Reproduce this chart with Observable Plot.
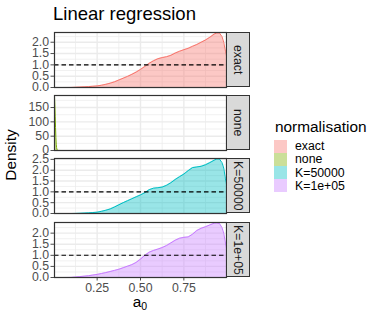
<!DOCTYPE html>
<html><head><meta charset="utf-8">
<script src="https://cdn.jsdelivr.net/npm/d3@7"></script>
<script src="https://cdn.jsdelivr.net/npm/@observablehq/plot@0.6"></script>
<style>
body{margin:0;background:#fff;}
#chart{position:relative;width:382px;height:322px;overflow:hidden;font-family:"Liberation Sans",Arial,sans-serif;background:#fff;}
#chart svg{position:absolute;left:0;overflow:visible;}
.strip{position:absolute;box-sizing:border-box;border:1.2px solid #333;background:#D9D9D9;display:flex;align-items:center;justify-content:center;}
.strip span{writing-mode:vertical-rl;font-size:12.3px;color:#1A1A1A;white-space:nowrap;}
.txt{position:absolute;white-space:nowrap;color:#000;line-height:1;}
.key{position:absolute;width:13px;height:13px;}
</style></head><body><div id="chart"></div>
<script>
// ---- data ----
const groups = ["exact", "none", "K=50000", "K=1e+05"];
const colors = ["#F8766D", "#7CAE00", "#00BFC4", "#C77CFF"];

const a0 = [0.004, 0.05, 0.1, 0.125, 0.15, 0.175, 0.2, 0.225, 0.25, 0.275, 0.3, 0.325, 0.35, 0.375, 0.4, 0.425, 0.45, 0.475, 0.5, 0.525, 0.55, 0.575, 0.6, 0.625, 0.65, 0.675, 0.7, 0.725, 0.75, 0.775, 0.8, 0.825, 0.85, 0.875, 0.9, 0.925, 0.94, 0.955, 0.97, 0.98, 0.99, 0.996];
const densityExact = [0, 0, 0.003, 0.01, 0.02, 0.03, 0.04, 0.055, 0.07, 0.1, 0.14, 0.19, 0.25, 0.33, 0.41, 0.49, 0.58, 0.68, 0.8, 0.93, 1.07, 1.18, 1.27, 1.32, 1.36, 1.42, 1.52, 1.6, 1.67, 1.73, 1.82, 1.9, 2.0, 2.1, 2.22, 2.36, 2.41, 2.41, 2.25, 2.0, 1.6, 1.4];
const densityK50000 = [0, 0, 0, 0.005, 0.01, 0.02, 0.03, 0.045, 0.06, 0.1, 0.15, 0.21, 0.3, 0.4, 0.5, 0.59, 0.68, 0.77, 0.86, 0.96, 1.1, 1.17, 1.19, 1.22, 1.3, 1.42, 1.57, 1.7, 1.82, 1.98, 2.12, 2.15, 2.18, 2.25, 2.35, 2.46, 2.52, 2.52, 2.35, 2.1, 1.6, 1.35];
const densityK1e5 = [0, 0, 0.005, 0.02, 0.04, 0.06, 0.08, 0.11, 0.14, 0.18, 0.22, 0.27, 0.32, 0.37, 0.44, 0.51, 0.58, 0.68, 0.83, 1.0, 1.14, 1.22, 1.28, 1.35, 1.44, 1.56, 1.68, 1.77, 1.81, 1.83, 1.95, 2.12, 2.22, 2.29, 2.37, 2.45, 2.46, 2.44, 2.25, 2.0, 1.55, 1.3];
const a0None = [0.004, 0.006, 0.008, 0.01, 0.012, 0.014, 0.016, 0.018, 0.02, 0.025, 0.04, 0.1, 0.3, 0.5, 0.8, 0.996];
const densityNone = [190, 160, 120, 80, 45, 22, 10, 4, 1.5, 0.3, 0, 0, 0, 0, 0, 0];

const xDomain = [0.004, 0.996];
const xTicks = [0.25, 0.5, 0.75];
const xMinor = [0.125, 0.375, 0.625, 0.875];
const yMax = [2.43, 192, 2.54, 2.48];
const yTicks = [[0, 0.5, 1, 1.5, 2], [0, 50, 100, 150], [0, 0.5, 1, 1.5, 2, 2.5], [0, 0.5, 1, 1.5, 2]];
const uniformDensity = [1];

// ---- layout ----
const panelTops = [32, 95, 158, 222];
const panelH = 55;
const chart = document.getElementById("chart");

const series = [
  {x: a0, y: densityExact},
  {x: a0None, y: densityNone},
  {x: a0, y: densityK50000},
  {x: a0, y: densityK1e5}
];

function minorOf(ticks, max) {
  const step = ticks[1] - ticks[0];
  const m = [];
  for (let i = 0; i < ticks.length; i++) {
    const v = ticks[i] + step / 2;
    if (v < max) m.push(v);
  }
  return m;
}

groups.forEach((g, i) => {
  const data = series[i].x.map((x, j) => ({x, y: series[i].y[j]}));
  const last = i === groups.length - 1;
  const mt = 1, mb = last ? 22 : 1;
  const grid = "#EBEBEB";
  const fmt = i === 1 ? d3.format("d") : d3.format(".1f");
  const svg = Plot.plot({
    width: 230,
    height: mt + panelH + mb,
    marginLeft: 54, marginRight: 4, marginTop: mt, marginBottom: mb,
    style: {fontFamily: '"Liberation Sans", Arial, sans-serif', fontSize: "12.3px", background: "transparent", overflow: "visible"},
    x: {domain: xDomain, axis: null},
    y: {domain: [0, yMax[i]], axis: null},
    marks: [
      Plot.gridX(xMinor, {stroke: grid, strokeOpacity: 1, strokeWidth: 0.7}),
      Plot.gridY(minorOf(yTicks[i], yMax[i]), {stroke: grid, strokeOpacity: 1, strokeWidth: 0.7}),
      Plot.gridX(xTicks, {stroke: grid, strokeOpacity: 1, strokeWidth: 1.4}),
      Plot.gridY(yTicks[i], {stroke: grid, strokeOpacity: 1, strokeWidth: 1.4}),
      Plot.areaY(data, {x: "x", y: "y", fill: colors[i], fillOpacity: 0.4}),
      Plot.lineY(data, {x: "x", y: "y", stroke: colors[i], strokeWidth: 1}),
      i === 1 ? null : Plot.ruleY(uniformDensity, {stroke: "#000", strokeWidth: 1.1, strokeDasharray: "4.5,3"}),
      Plot.axisY(yTicks[i], {anchor: "left", tickSize: 3.5, tickPadding: 2, tickFormat: fmt, label: null, color: "#4D4D4D", fontSize: 12.3}),
      last ? Plot.axisX(xTicks, {anchor: "bottom", tickSize: 3.5, tickPadding: 2, tickFormat: d3.format(".2f"), label: null, color: "#4D4D4D", fontSize: 12.3}) : null,
      Plot.frame({stroke: "#333", strokeWidth: 1.2})
    ]
  });
  svg.style.top = (panelTops[i] - mt) + "px";
  chart.appendChild(svg);

  const strip = document.createElement("div");
  strip.className = "strip";
  strip.style.left = "226px";
  strip.style.top = panelTops[i] + "px";
  strip.style.width = "24px";
  strip.style.height = panelH + "px";
  strip.innerHTML = `<span>${g}</span>`;
  chart.appendChild(strip);
});

// titles
function addText(html, style) {
  const d = document.createElement("div");
  d.className = "txt";
  d.innerHTML = html;
  Object.assign(d.style, style);
  chart.appendChild(d);
  return d;
}
addText("Linear regression", {left: "53px", top: "5px", fontSize: "18.5px"});
addText("Density", {left: "11px", top: "155px", fontSize: "15.4px", transform: "translate(-50%,-50%) rotate(-90deg)"});
addText('a<sub style="font-size:10.5px;vertical-align:-3px;line-height:1">0</sub>', {left: "140px", top: "294px", fontSize: "15.4px", transform: "translateX(-50%)"});

// legend
addText("normalisation", {left: "275px", top: "119px", fontSize: "15.4px"});
groups.forEach((g, i) => {
  const k = document.createElement("div");
  k.className = "key";
  const c = d3.color(colors[i]); c.opacity = 0.4;
  k.style.background = c.formatRgb();
  k.style.left = "274px";
  k.style.top = (139.5 + i * 13.3) + "px";
  chart.appendChild(k);
  addText(g, {left: "295px", top: (140 + i * 13.3) + "px", fontSize: "12.3px"});
});
</script>
</body></html>
